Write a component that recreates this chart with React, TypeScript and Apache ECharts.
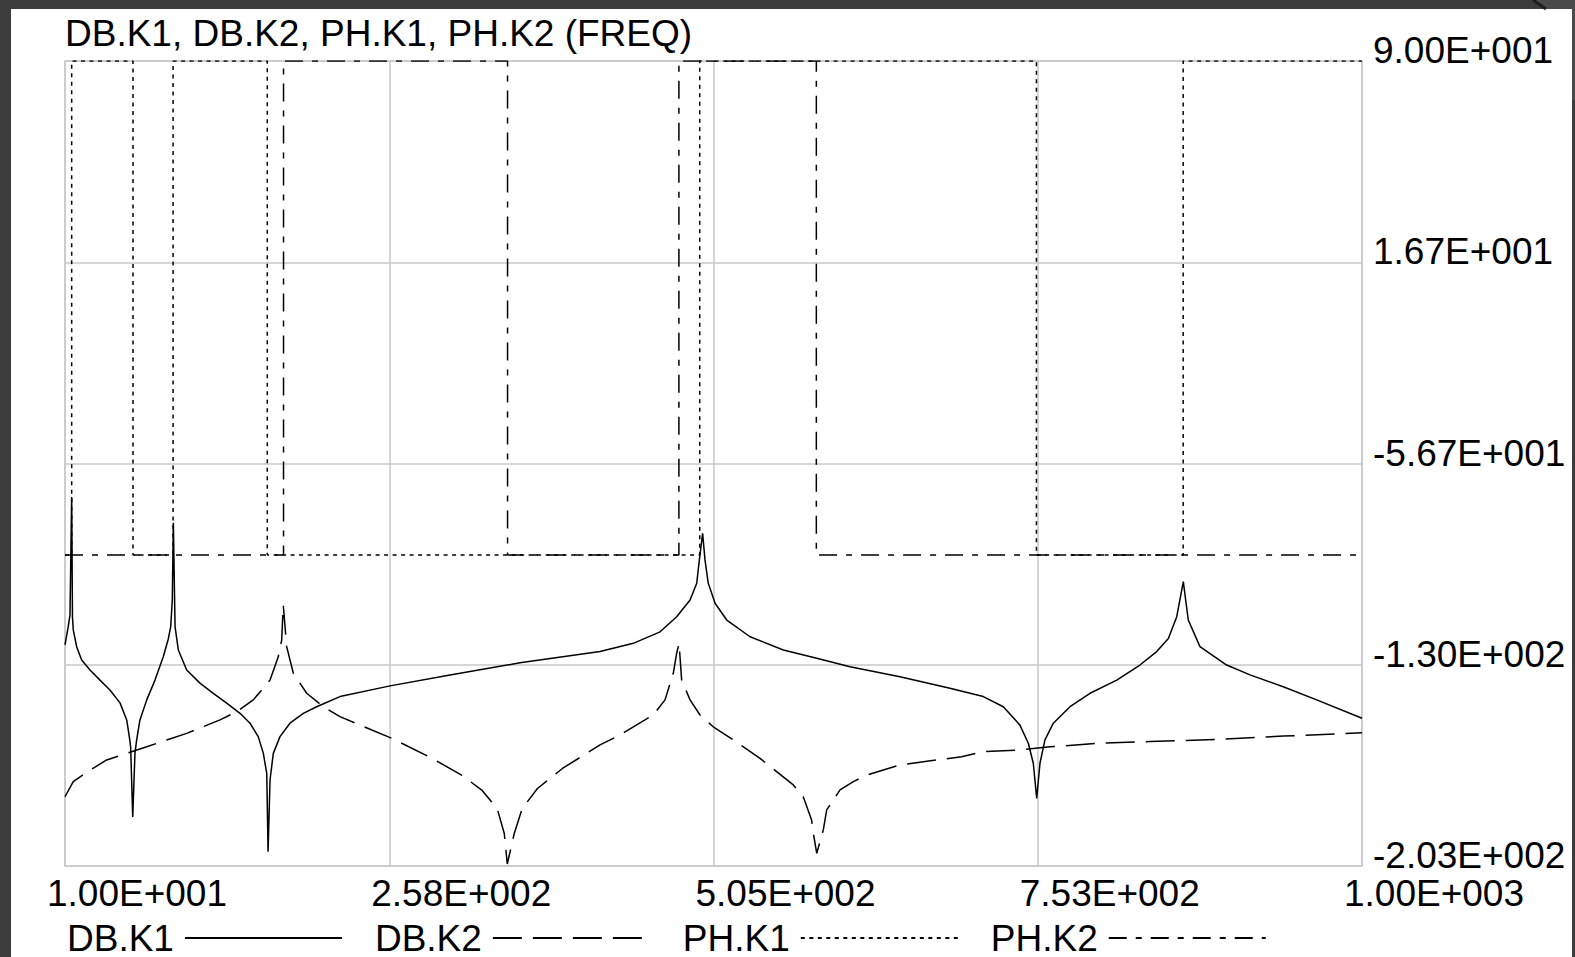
import React, { useEffect, useRef } from "react";
import * as echarts from "echarts";

const titleText = "DB.K1, DB.K2, PH.K1, PH.K2 (FREQ)";
const seriesNames = ["DB.K1", "DB.K2", "PH.K1", "PH.K2"];

const xTickValues = [10, 257.5, 505, 752.5, 1000];
const xTickLabels = ["1.00E+001", "2.58E+002", "5.05E+002", "7.53E+002", "1.00E+003"];
const yTickValues = [-610 / 3, -130, -170 / 3, 50 / 3, 90];
const yTickLabels = ["-2.03E+002", "-1.30E+002", "-5.67E+001", "1.67E+001", "9.00E+001"];

// [frequency, value]
const dbK1: [number, number][] = [
  [10, -122.8], [12.3, -116.6], [13.8, -111.9], [15.1, -68.9], [15.7, -112.6], [16.3, -117.3],
  [18.9, -123.4], [22.7, -128.3], [29.1, -131.9], [36.7, -135.6], [44.3, -139.2], [52.0, -143.9],
  [57.1, -150.1], [59.1, -156.2], [60.1, -159.9], [61.7, -185.5], [63.4, -162.2], [64.7, -157.4],
  [67.2, -150.1], [72.4, -142.8], [78.7, -135.6], [85.0, -127.1], [88.8, -120.7], [90.7, -116.1],
  [91.9, -106.4], [92.7, -78.3], [94.0, -116.1], [96.5, -124.6], [102.9, -131.9], [113.0, -136.7],
  [123.2, -140.4], [133.4, -144.0], [143.6, -147.7], [151.2, -151.3], [157.5, -156.2], [161.4, -162.3],
  [164.0, -169.6], [165.0, -198.1], [166.5, -172.0], [169.0, -162.3], [174.1, -156.2], [181.7, -151.3],
  [191.9, -147.7], [202.1, -145.3], [219.9, -141.6], [258.1, -137.7], [303.9, -133.7], [357.3, -129.3],
  [418.4, -125.2], [443.8, -122.2], [464.2, -118.0], [476.9, -112.5], [487.1, -106.4], [492.2, -100.3],
  [494.2, -91.8], [496.7, -82.1], [498.5, -91.8], [501.0, -100.3], [506.2, -107.6], [515.1, -113.7],
  [532.9, -119.8], [558.3, -124.6], [583.8, -127.6], [609.2, -130.7], [647.3, -134.4], [685.5, -138.6],
  [710.9, -141.6], [726.2, -145.3], [738.9, -152.0], [745.3, -158.6], [749.1, -165.9], [751.7, -178.7],
  [754.2, -165.9], [758.0, -157.4], [764.4, -151.3], [777.1, -145.3], [792.4, -140.4], [812.8, -135.6],
  [830.5, -130.1], [843.3, -125.2], [852.2, -120.4], [858.6, -112.5], [863.6, -99.7], [867.4, -113.7],
  [876.3, -123.4], [896.7, -130.1], [914.5, -133.7], [939.9, -138.0], [965.4, -142.8], [1000, -149.5],
];

const dbK2: [number, number][] = [
  [10, -178.1], [16.3, -172.6], [29.1, -168.4], [41.8, -164.7], [57.1, -162.3], [72.4, -159.9],
  [87.6, -157.4], [102.9, -155.0], [128.3, -150.1], [141.1, -147.1], [153.7, -142.8], [166.5, -135.6],
  [172.8, -127.1], [175.4, -121.0], [176.6, -108.2], [179.2, -123.4], [184.3, -133.1], [194.5, -140.4],
  [207.2, -145.3], [219.9, -148.9], [259.4, -156.8], [290.1, -164.1], [313.1, -170.3], [328.4, -175.8],
  [339.9, -182.4], [345.3, -191.5], [347.6, -202.6], [352.9, -191.5], [359.0, -182.4], [370.6, -175.1],
  [389.7, -167.8], [418.4, -159.2], [433.6, -155.6], [459.0, -148.3], [468.0, -142.8], [474.3, -133.1],
  [476.9, -125.8], [478.7, -122.2], [480.7, -135.6], [487.1, -142.8], [494.7, -148.3], [504.8, -152.6],
  [520.1, -157.4], [540.5, -164.1], [565.9, -173.8], [573.5, -178.1], [579.9, -186.6], [581.2, -191.4],
  [583.8, -198.7], [588.8, -190.2], [591.4, -182.9], [601.6, -175.6], [611.7, -172.6], [621.9, -170.2],
  [647.3, -166.5], [694.4, -163.5], [710.9, -161.7], [736.4, -161.1], [761.8, -159.9], [800.0, -158.6],
  [838.2, -158.0], [889.1, -157.2], [939.9, -156.0], [1000, -154.8],
];

const phK1: [number, number][] = [
  [10, -90], [15.1, -90], [15.1, 90], [61.9, 90], [61.9, -90], [92.5, -90], [92.5, 90],
  [164.4, 90], [164.4, -90], [494.5, -90], [494.5, 90], [751.5, 90], [751.5, -90],
  [863.5, -90], [863.5, 90], [1000, 90],
];

const phK2: [number, number][] = [
  [10, -90], [176.8, -90], [176.8, 90], [347.8, 90], [347.8, -90], [478.6, -90],
  [478.6, 90], [583.5, 90], [583.5, -90], [1000, -90],
];

const FONT = "'Liberation Sans', Arial, Helvetica, sans-serif";
const GRID_COLOR = "#c8c8c8";

function labelFor(v: number, vals: number[], labels: string[]): string {
  let best = 0;
  for (let i = 1; i < vals.length; i++) {
    if (Math.abs(vals[i] - v) < Math.abs(vals[best] - v)) best = i;
  }
  return Math.abs(vals[best] - v) < 1e-3 ? labels[best] : "";
}

export default function App() {
  const ref = useRef<HTMLDivElement>(null);
  useEffect(() => {
    if (!ref.current) return;
    const chart = echarts.init(ref.current, null, { renderer: "svg" });
    const mk = (name: string, data: [number, number][], type: any, width: number) => ({
      name,
      type: "line",
      data,
      symbol: "none",
      showSymbol: false,
      silent: true,
      lineStyle: { color: "#000", width, type },
      itemStyle: { color: "#000" },
    });
    chart.setOption({
      animation: false,
      backgroundColor: "#3c3c3c",
      textStyle: { fontFamily: FONT },
      title: {
        text: titleText,
        left: 65,
        top: 13,
        padding: 0,
        textStyle: { color: "#000", fontSize: 37, fontWeight: "normal", fontFamily: FONT, lineHeight: 40 },
      },
      graphic: [
        { type: "rect", z: -10, shape: { x: 11, y: 9, width: 1561, height: 948 }, style: { fill: "#ffffff" } },
        { type: "polygon", z: -10, shape: { points: [[1533, 0], [1575, 0], [1575, 100], [1572, 100], [1572, 9], [1546, 9]] }, style: { fill: "#4a4a4a" } },
        { type: "line", z: -10, shape: { x1: 1533, y1: 0, x2: 1546, y2: 9 }, style: { stroke: "#1e1e1e", lineWidth: 3 } },
      ],
      grid: {
        left: 65,
        top: 61,
        width: 1297,
        height: 805,
        show: true,
        borderColor: GRID_COLOR,
        borderWidth: 1.5,
        outerBoundsMode: "none",
        containLabel: false,
      },
      legend: {
        data: seriesNames,
        left: 67,
        top: 918,
        padding: 0,
        orient: "horizontal",
        align: "right",
        itemWidth: 157,
        itemHeight: 14,
        itemGap: 32,
        selectedMode: false,
        itemStyle: { opacity: 0, borderWidth: 0 },
        textStyle: { color: "#000", fontSize: 37, fontFamily: FONT, lineHeight: 40, padding: [0, 6, 0, 0] },
      },
      xAxis: {
        type: "value",
        min: 10,
        max: 1000,
        axisLine: { show: false },
        axisTick: { show: false, customValues: xTickValues },
        axisLabel: {
          customValues: xTickValues,
          formatter: (v: number) => labelFor(v, xTickValues, xTickLabels),
          color: "#000",
          fontSize: 37,
          fontFamily: FONT,
          align: "center",
          padding: [0, 0, 0, 144],
          verticalAlign: "top",
          lineHeight: 40,
          margin: 7,
        },
        splitLine: { show: true, lineStyle: { color: GRID_COLOR, width: 1.5 } },
      },
      yAxis: {
        type: "value",
        position: "right",
        min: -610 / 3,
        max: 90,
        axisLine: { show: false },
        axisTick: { show: false, customValues: yTickValues },
        axisLabel: {
          customValues: yTickValues,
          formatter: (v: number) => labelFor(v, yTickValues, yTickLabels),
          color: "#000",
          fontSize: 37,
          fontFamily: FONT,
          align: "left",
          verticalAlign: "bottom",
          lineHeight: 21,
          margin: 11,
        },
        splitLine: { show: true, lineStyle: { color: GRID_COLOR, width: 1.5 } },
      },
      series: [
        mk("DB.K1", dbK1, "solid", 1.5),
        mk("DB.K2", dbK2, [29, 11], 1.5),
        mk("PH.K1", phK1, [4, 4.5], 1.5),
        mk("PH.K2", phK2, [18, 9, 6, 9], 1.5),
      ],
    });
    return () => chart.dispose();
  }, []);
  return (
    <div style={{ position: "fixed", left: 0, top: 0, width: 1575, height: 957, background: "#3c3c3c" }}>
      <div ref={ref} style={{ width: 1575, height: 957 }} />
    </div>
  );
}
